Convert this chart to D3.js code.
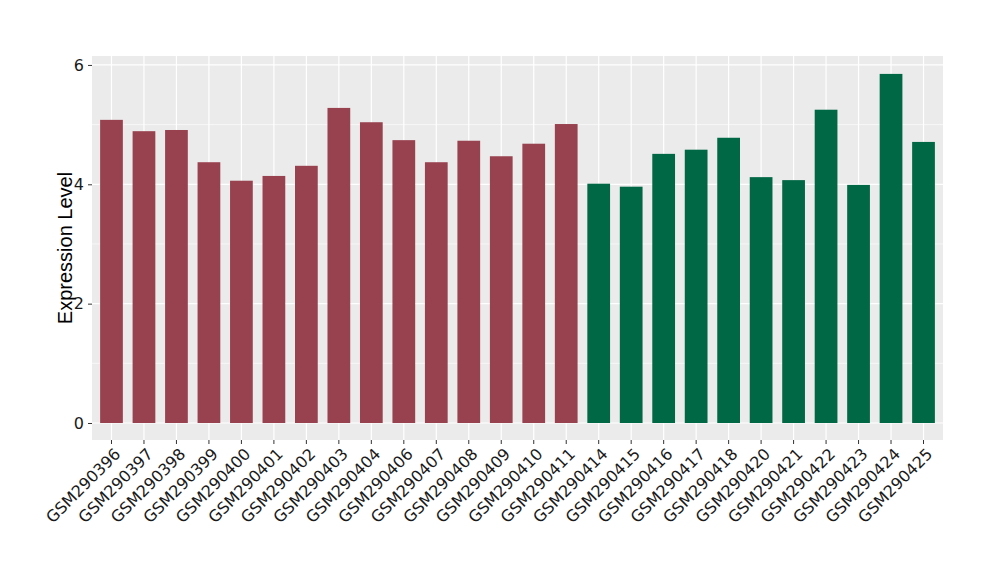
<!DOCTYPE html>
<html><head><meta charset="utf-8">
<script src="https://cdn.jsdelivr.net/npm/d3@7"></script>
<style>body{margin:0;background:#fff;}</style>
</head><body>
<svg id="c" width="1000" height="580"></svg>
<script>
const samples = ["GSM290396","GSM290397","GSM290398","GSM290399","GSM290400","GSM290401","GSM290402","GSM290403","GSM290404","GSM290406","GSM290407","GSM290408","GSM290409","GSM290410","GSM290411","GSM290414","GSM290415","GSM290416","GSM290417","GSM290418","GSM290420","GSM290421","GSM290422","GSM290423","GSM290424","GSM290425"];
const values = [5.08,4.89,4.91,4.37,4.06,4.14,4.31,5.28,5.04,4.74,4.37,4.73,4.47,4.68,5.01,4.01,3.96,4.51,4.58,4.78,4.12,4.07,5.25,3.99,5.85,4.71];
const groups = ["A","A","A","A","A","A","A","A","A","A","A","A","A","A","A","B","B","B","B","B","B","B","B","B","B","B"];
const groupNames = ["A","B"];
const groupColors = ["#99424F","#006845"];
const yTicks = [0,2,4,6];
const yMinor = [1,3,5];

const svg = d3.select("#c");
const L=92, R=943, T=56, B=440;
const x = d3.scaleBand().domain(samples).range([L,R]).paddingInner(0.3).paddingOuter(0.25);
const y = d3.scaleLinear().domain([-0.285,6.15]).range([B,T]);
const color = d3.scaleOrdinal().domain(groupNames).range(groupColors);
const tickFont = "DejaVu Sans, sans-serif";

svg.append("rect").attr("x",L).attr("y",T).attr("width",R-L).attr("height",B-T).attr("fill","#EBEBEB");
const g = svg.append("g");
yMinor.forEach(v=>g.append("line").attr("x1",L).attr("x2",R).attr("y1",y(v)).attr("y2",y(v)).attr("stroke","#fff").attr("stroke-width",0.6));
yTicks.forEach(v=>g.append("line").attr("x1",L).attr("x2",R).attr("y1",y(v)).attr("y2",y(v)).attr("stroke","#fff").attr("stroke-width",1.2));
samples.forEach(s=>g.append("line").attr("x1",x(s)+x.bandwidth()/2).attr("x2",x(s)+x.bandwidth()/2).attr("y1",T).attr("y2",B).attr("stroke","#fff").attr("stroke-width",1.2));

svg.selectAll(".bar").data(samples).enter().append("rect")
  .attr("x",d=>x(d)).attr("width",x.bandwidth())
  .attr("y",(d,i)=>y(values[i])).attr("height",(d,i)=>y(0)-y(values[i]))
  .attr("fill",(d,i)=>color(groups[i]));

const ya = svg.append("g").attr("transform",`translate(${L},0)`)
  .call(d3.axisLeft(y).tickValues(yTicks).tickSize(4).tickPadding(4).tickFormat(d3.format("d")));
ya.select(".domain").remove();
ya.selectAll("line").attr("stroke","#333");
ya.selectAll("text").attr("font-size",16).attr("fill","#1a1a1a").style("font-family",tickFont);

const xa = svg.append("g").attr("transform",`translate(0,${B})`)
  .call(d3.axisBottom(x).tickSize(4).tickPadding(2));
xa.select(".domain").remove();
xa.selectAll("line").attr("stroke","#333");
xa.selectAll("text").attr("font-size",16).attr("fill","#1a1a1a")
  .style("font-family",tickFont)
  .attr("text-anchor","end").attr("dy","0.71em")
  .attr("transform","translate(2,7) rotate(-45)").attr("x",0).attr("y",0);

svg.append("text").attr("transform",`translate(72,${(T+B)/2}) rotate(-90)`)
  .attr("text-anchor","middle").attr("font-size",20).attr("fill","#000")
  .style("font-family","Liberation Sans, Arial, sans-serif").text("Expression Level");
</script>
</body></html>
